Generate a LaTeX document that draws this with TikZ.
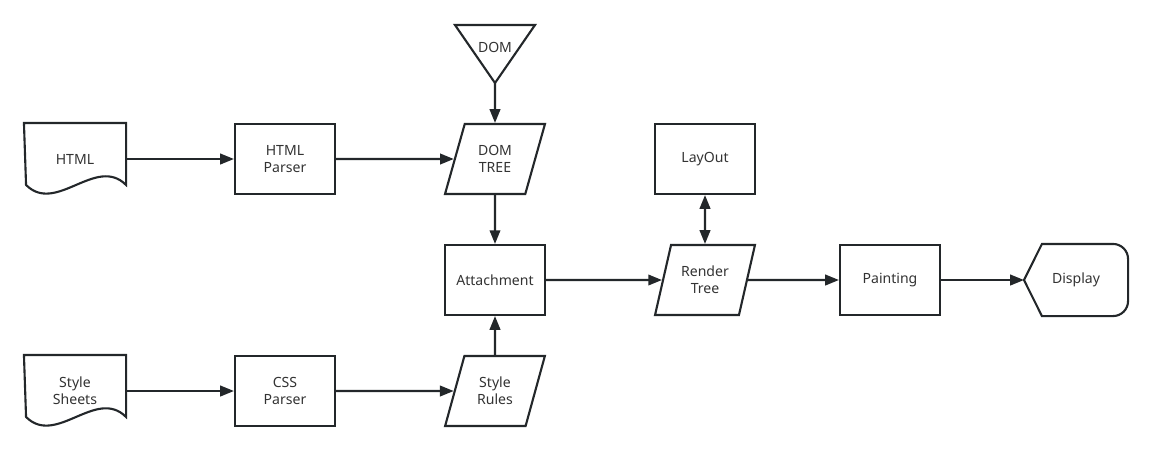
\documentclass[tikz,border=0pt]{standalone}
\usepackage{fontspec}
\setmainfont{Noto Sans}
\usetikzlibrary{arrows.meta, shapes.geometric, calc}
\definecolor{linecol}{HTML}{23272A}
\definecolor{txtcol}{HTML}{333333}
\tikzset{>={Triangle[length=7.8pt,width=6pt]},
  line/.style={draw=linecol, line width=1.2pt},
  arr/.style={line, ->},
  box/.style={line, rectangle, minimum width=2cm, minimum height=1.4cm, align=center,
    text=txtcol, font=\fontsize{8}{9.5}\selectfont},
  data/.style={box, trapezium, trapezium left angle=74, trapezium right angle=106,
    trapezium stretches=true, minimum width=2cm, inner xsep=0pt},
  plain/.style={box, draw=none}
}

\begin{document}
\begin{tikzpicture}
\useasboundingbox (0, 0) rectangle (23, -9.02);

\node[plain] (html) at (1.5, -3.18) {HTML};
\node[box] (hparser) at (5.7, -3.18) {HTML\\Parser};
\node[plain, minimum height=0pt] (dom) at (9.9, -0.94) {DOM};
\node[data] (domtree) at (9.9, -3.18) {DOM\\TREE};
\node[box] (attach) at (9.9, -5.6) {Attachment};
\node[plain] (sheets) at (1.5, -7.82) {Style\\Sheets};
\node[box] (cparser) at (5.7, -7.82) {CSS\\Parser};
\node[data] (srules) at (9.9, -7.82) {Style\\Rules};
\node[box] (layout) at (14.1, -3.18) {LayOut};
\node[data] (rtree) at (14.1, -5.6) {Render\\Tree};
\node[box] (paint) at (17.8, -5.6) {Painting};
\node[plain, minimum width=2.04cm] (disp) at (21.52, -5.6) {Display};

% document shapes
\foreach \n in {html, sheets}
  \draw[line] (\n.north west) -- (\n.north east) -- ++(0, -1.24)
    .. controls +(-0.6, 0.6) and +(0.6, -0.6) .. ++(-2, 0) -- cycle;

% merge triangle
\draw[line] ($(dom) + (-0.8, 0.44)$) -- ($(dom) + (0.8, 0.44)$) -- ($(dom) + (0, -0.72)$) -- cycle;
\coordinate (domtip) at ($(dom) + (0, -0.72)$);

% display shape
\draw[line] (disp.west) -- ($(disp.north west) + (0.36, 0)$) -- ($(disp.north east) + (-0.3, 0)$)
  arc[start angle=90, end angle=0, radius=0.3] -- ($(disp.south east) + (0, 0.3)$)
  arc[start angle=0, end angle=-90, radius=0.3] -- ($(disp.south west) + (0.36, 0)$) -- cycle;

\draw[arr] (html) -- (hparser);
\draw[arr] (hparser) -- (domtree);
\draw[arr] (domtip) -- (domtree);
\draw[arr] (domtree) -- (attach);
\draw[arr] (sheets) -- (cparser);
\draw[arr] (cparser) -- (srules);
\draw[arr] (srules) -- (attach);
\draw[arr] (attach) -- (rtree);
\draw[arr, <->] (layout) -- (rtree);
\draw[arr] (rtree) -- (paint);
\draw[arr] (paint) -- (disp);

\end{tikzpicture}
\end{document}
